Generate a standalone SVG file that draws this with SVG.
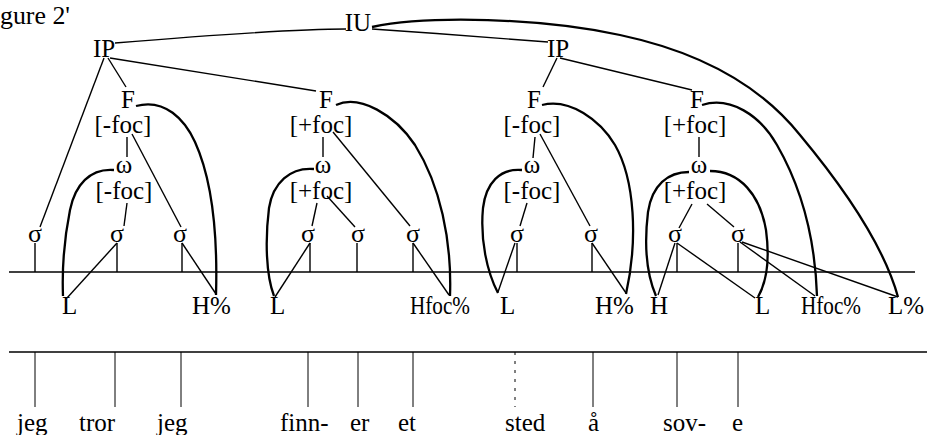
<svg xmlns="http://www.w3.org/2000/svg" width="932" height="435" viewBox="0 0 932 435">
<style>
text{font-family:"Liberation Serif","Times New Roman",serif;fill:#000;font-size:25px}
.m{text-anchor:middle}
.sg{font-size:26px;text-anchor:middle}
.w{font-size:25px}
.ln{stroke:#000;stroke-width:1.4;fill:none}
.th{stroke:#000;stroke-width:2.3;fill:none}
.tk{stroke:#000;stroke-width:1;fill:none}
</style>
<rect width="932" height="435" fill="#fff"/>
<text x="0" y="24" font-size="24" textLength="70" lengthAdjust="spacingAndGlyphs">gure 2'</text>

<g id="connectors">
  <!-- tiers -->
  <line class="ln" x1="9" y1="272" x2="915" y2="272"/>
  <line class="ln" x1="9" y1="352" x2="927" y2="352"/>
  <!-- top -->
  <path class="ln" d="M346,29 C290,29 200,36 115,43"/>
  <path class="ln" d="M372,29 C430,33 500,38 548,42"/>
  <path class="th" d="M372,27 C430,15 540,18 620,35 C700,52 760,85 800,135 C850,195 885,250 898,297"/>
  <line class="ln" x1="104" y1="58" x2="40" y2="227"/>
  <line class="ln" x1="108" y1="58" x2="126" y2="87"/>
  <line class="ln" x1="110" y1="58" x2="316" y2="91"/>
  <line class="ln" x1="557" y1="58" x2="543" y2="87"/>
  <line class="ln" x1="560" y1="58" x2="692" y2="90"/>
  <!-- F curves -->
  <path class="th" d="M136,106 C165,98 185,120 195,142 C210,175 218,225 216,295"/>
  <path class="th" d="M336,105 C360,94 395,115 415,145 C440,185 452,240 450,296"/>
  <path class="th" d="M542,105 C570,98 600,120 615,145 C635,180 638,240 626,294"/>
  <path class="th" d="M702,105 C730,96 760,115 777,145 C800,185 815,235 817,296"/>
  <!-- omega curves -->
  <path class="th" d="M114,170 C90,168 75,185 70,210 C64,240 62,270 63,296"/>
  <path class="th" d="M314,169 C290,167 273,183 269,208 C265,240 266,275 274,296"/>
  <path class="th" d="M522,170 C500,168 486,183 483,208 C480,240 487,272 498,293"/>
  <path class="th" d="M689,172 C668,172 652,185 648,212 C644,245 647,275 656,296"/>
  <path class="th" d="M710,171 C740,171 760,195 766,230 C770,260 766,283 758,297"/>
  <!-- F/omega to lower -->
  <line class="ln" x1="127" y1="137" x2="127" y2="157"/>
  <line class="ln" x1="132" y1="134" x2="181" y2="227"/>
  <line class="ln" x1="127" y1="203" x2="124" y2="226"/>
  <line class="ln" x1="323" y1="137" x2="323" y2="157"/>
  <line class="ln" x1="333" y1="132" x2="410" y2="226"/>
  <line class="ln" x1="317" y1="203" x2="312" y2="226"/>
  <line class="ln" x1="327" y1="196" x2="355" y2="227"/>
  <line class="ln" x1="535" y1="137" x2="533" y2="158"/>
  <line class="ln" x1="540" y1="134" x2="590" y2="226"/>
  <line class="ln" x1="527" y1="203" x2="520" y2="226"/>
  <line class="ln" x1="699" y1="137" x2="699" y2="157"/>
  <line class="ln" x1="692" y1="204" x2="679" y2="228"/>
  <line class="ln" x1="707" y1="204" x2="734" y2="227"/>
  <!-- sigma stems -->
  <line class="ln" x1="35" y1="243" x2="35" y2="272"/>
  <line class="ln" x1="117" y1="243" x2="117" y2="272"/>
  <line class="ln" x1="182" y1="243" x2="182" y2="272"/>
  <line class="ln" x1="310" y1="243" x2="310" y2="272"/>
  <line class="ln" x1="357" y1="243" x2="357" y2="272"/>
  <line class="ln" x1="413" y1="243" x2="413" y2="272"/>
  <line class="ln" x1="517" y1="243" x2="517" y2="272"/>
  <line class="ln" x1="592" y1="243" x2="592" y2="272"/>
  <line class="ln" x1="677" y1="243" x2="677" y2="272"/>
  <line class="ln" x1="738" y1="243" x2="738" y2="272"/>
  <!-- sigma to tones -->
  <line class="ln" x1="117" y1="243" x2="67" y2="298"/>
  <line class="ln" x1="182" y1="243" x2="216" y2="294"/>
  <line class="ln" x1="310" y1="243" x2="275" y2="297"/>
  <line class="ln" x1="413" y1="243" x2="449" y2="295"/>
  <line class="ln" x1="515" y1="243" x2="498" y2="292"/>
  <line class="ln" x1="592" y1="243" x2="626" y2="293"/>
  <line class="ln" x1="675" y1="243" x2="658" y2="295"/>
  <line class="ln" x1="677" y1="243" x2="755" y2="298"/>
  <line class="ln" x1="740" y1="242" x2="815" y2="296"/>
  <line class="ln" x1="742" y1="242" x2="898" y2="297"/>
  <!-- word ticks -->
  <line class="tk" x1="35" y1="352" x2="35" y2="407"/>
  <line class="tk" x1="115" y1="352" x2="115" y2="407"/>
  <line class="tk" x1="181" y1="352" x2="181" y2="407"/>
  <line class="tk" x1="308" y1="352" x2="308" y2="407"/>
  <line class="tk" x1="358" y1="352" x2="358" y2="407"/>
  <line class="tk" x1="413" y1="352" x2="413" y2="407"/>
  <line class="tk" x1="515" y1="352" x2="515" y2="407" stroke-dasharray="3,6"/>
  <line class="tk" x1="593" y1="352" x2="593" y2="407"/>
  <line class="tk" x1="677" y1="352" x2="677" y2="407"/>
  <line class="tk" x1="738" y1="352" x2="738" y2="407"/>
</g>

<g id="IU"><text class="m" x="358" y="31" font-size="26">IU</text></g>
<g id="IP1"><text x="93" y="57">IP</text></g>
<g id="IP2"><text x="547" y="57">IP</text></g>

<g id="F1"><text class="m" x="128" y="108">F</text><text class="m" x="123" y="133">[-foc]</text></g>
<g id="F2"><text class="m" x="326" y="108">F</text><text class="m" x="321" y="133">[+foc]</text></g>
<g id="F3"><text class="m" x="534" y="108">F</text><text class="m" x="532" y="133">[-foc]</text></g>
<g id="F4"><text class="m" x="697" y="108">F</text><text class="m" x="695" y="133">[+foc]</text></g>

<g id="w1"><text class="m" x="124" y="173">ω</text><text class="m" x="124" y="199">[-foc]</text></g>
<g id="w2"><text class="m" x="323" y="173">ω</text><text class="m" x="321" y="199">[+foc]</text></g>
<g id="w3"><text class="m" x="532" y="173">ω</text><text class="m" x="532" y="199">[-foc]</text></g>
<g id="w4"><text class="m" x="699" y="173">ω</text><text class="m" x="695" y="199">[+foc]</text></g>

<g id="s1"><text class="sg" x="35" y="242">σ</text></g>
<g id="s2"><text class="sg" x="117" y="242">σ</text></g>
<g id="s3"><text class="sg" x="180" y="242">σ</text></g>
<g id="s4"><text class="sg" x="308" y="242">σ</text></g>
<g id="s5"><text class="sg" x="358" y="242">σ</text></g>
<g id="s6"><text class="sg" x="413" y="242">σ</text></g>
<g id="s7"><text class="sg" x="517" y="242">σ</text></g>
<g id="s8"><text class="sg" x="591" y="242">σ</text></g>
<g id="s9"><text class="sg" x="675" y="242">σ</text></g>
<g id="s10"><text class="sg" x="738" y="242">σ</text></g>

<g id="t1"><text x="62" y="314">L</text></g>
<g id="t2"><text x="192" y="314">H%</text></g>
<g id="t3"><text x="270" y="314">L</text></g>
<g id="t4"><text x="410" y="314" textLength="60" lengthAdjust="spacingAndGlyphs">Hfoc%</text></g>
<g id="t5"><text x="500" y="314">L</text></g>
<g id="t6"><text x="595" y="314">H%</text></g>
<g id="t7"><text x="650" y="314">H</text></g>
<g id="t8"><text x="755" y="314">L</text></g>
<g id="t9"><text x="801" y="314" textLength="60" lengthAdjust="spacingAndGlyphs">Hfoc%</text></g>
<g id="t10"><text x="888" y="314">L%</text></g>

<g id="words">
  <text class="w" x="17" y="431">jeg</text>
  <text class="w" x="79" y="431">tror</text>
  <text class="w" x="157" y="431">jeg</text>
  <text class="w" x="280" y="431">finn-</text>
  <text class="w" x="350" y="431">er</text>
  <text class="w" x="398" y="431">et</text>
  <text class="w" x="505" y="431">sted</text>
  <text class="w" x="588" y="431">å</text>
  <text class="w" x="663" y="431">sov-</text>
  <text class="w" x="732" y="431">e</text>
</g>
</svg>
